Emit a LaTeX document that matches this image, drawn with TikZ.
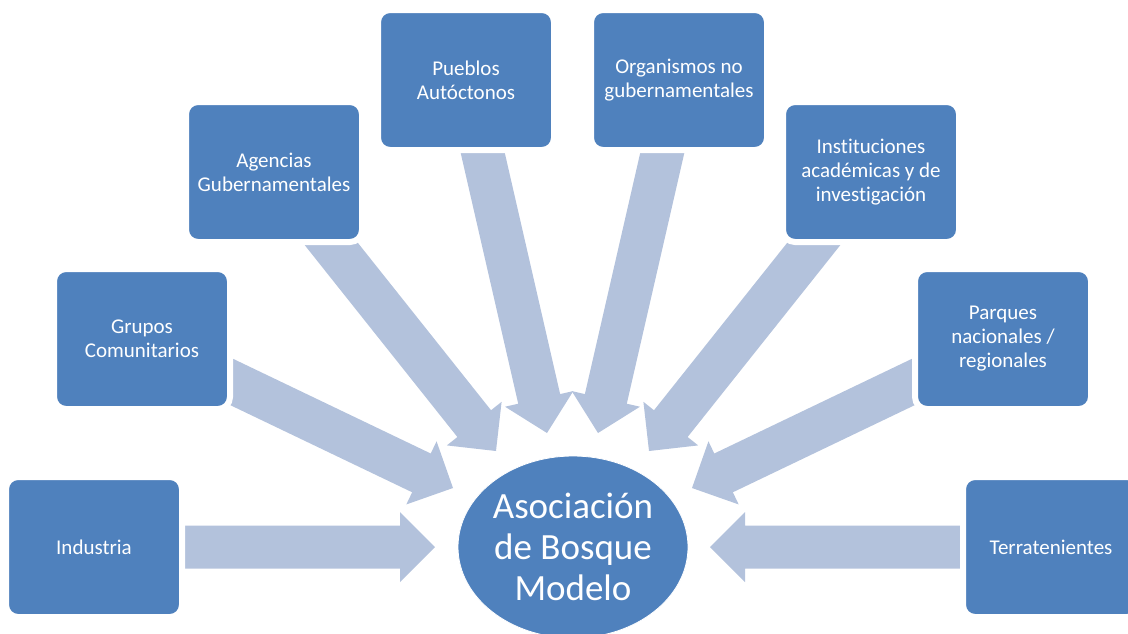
\documentclass[tikz,border=0pt]{standalone}
\usepackage{fontspec}
\setmainfont{Carlito}[Ligatures=NoCommon]
\usetikzlibrary{calc,shapes.geometric}

\pgfdeclarelayer{background}
\pgfsetlayers{background,main}

\definecolor{cajaazul}{RGB}{79,129,189}
\definecolor{flechaazul}{RGB}{179,194,220}

% block arrow from a box centre to its tip
\newcommand{\flecha}[2]{%
  \coordinate (h) at ($(#2)!17.5pt!(#1)$);
  \fill[flechaazul] ($(#1)!10.75pt!90:(#2)$) -- ($(h)!10.75pt!90:(#2)$) -- ($(h)!17.5pt!90:(#2)$) -- (#2)
    -- ($(h)!17.5pt!-90:(#2)$) -- ($(h)!10.75pt!-90:(#2)$) -- ($(#1)!10.75pt!-90:(#2)$) -- cycle;
}

\begin{document}
\begin{tikzpicture}[x=0.5pt,y=-0.5pt,
    caja/.style={draw=white, line width=3pt, fill=cajaazul, rounded corners=6pt, minimum width=88pt, minimum height=70pt,
      inner sep=0pt, text=white, align=center, font=\fontsize{10.5}{12}\selectfont},
    centro/.style={ellipse, draw=white, fill=cajaazul, minimum width=115pt, minimum height=91pt, inner sep=0pt,
      text=white, align=center, font=\fontsize{18.5}{20.5}\selectfont}]

    \useasboundingbox (0,0) rectangle (1128,633);
    \clip (0,0) rectangle (1128,633);

    % boxes
    \node [caja] (industria) at (94,547) {Industria};
    \node [caja] (grupos) at (142,339) {Grupos\\Comunitarios};
    \node [caja] (agencias) at (274,172) {Agencias\\Gubernamentales};
    \node [caja] (pueblos) at (466,80) {Pueblos\\Autóctonos};
    \node [caja] (ong) at (679,80) {Organismos no\\gubernamentales};
    \node [caja] (instituciones) at (871,172) {Instituciones\\académicas y de\\investigación};
    \node [caja] (parques) at (1003,339) {Parques\\nacionales /\\regionales};
    \node [caja] (terratenientes) at (1051,547) {Terratenientes};

    % centre
    \node [centro] (bosque) at (573,547) {Asociación\\de Bosque\\Modelo};

    % arrow tips
    \coordinate (t1) at (435,547);
    \coordinate (t2) at (453,488);
    \coordinate (t3) at (496,451);
    \coordinate (t4) at (547,433);
    \coordinate (t5) at (598,433);
    \coordinate (t6) at (649,451);
    \coordinate (t7) at (692,488);
    \coordinate (t8) at (710,547);

    % arrows
    \begin{pgfonlayer}{background}
        \flecha{industria.center}{t1}
        \flecha{grupos.center}{t2}
        \flecha{agencias.center}{t3}
        \flecha{pueblos.center}{t4}
        \flecha{ong.center}{t5}
        \flecha{instituciones.center}{t6}
        \flecha{parques.center}{t7}
        \flecha{terratenientes.center}{t8}
    \end{pgfonlayer}

\end{tikzpicture}
\end{document}
